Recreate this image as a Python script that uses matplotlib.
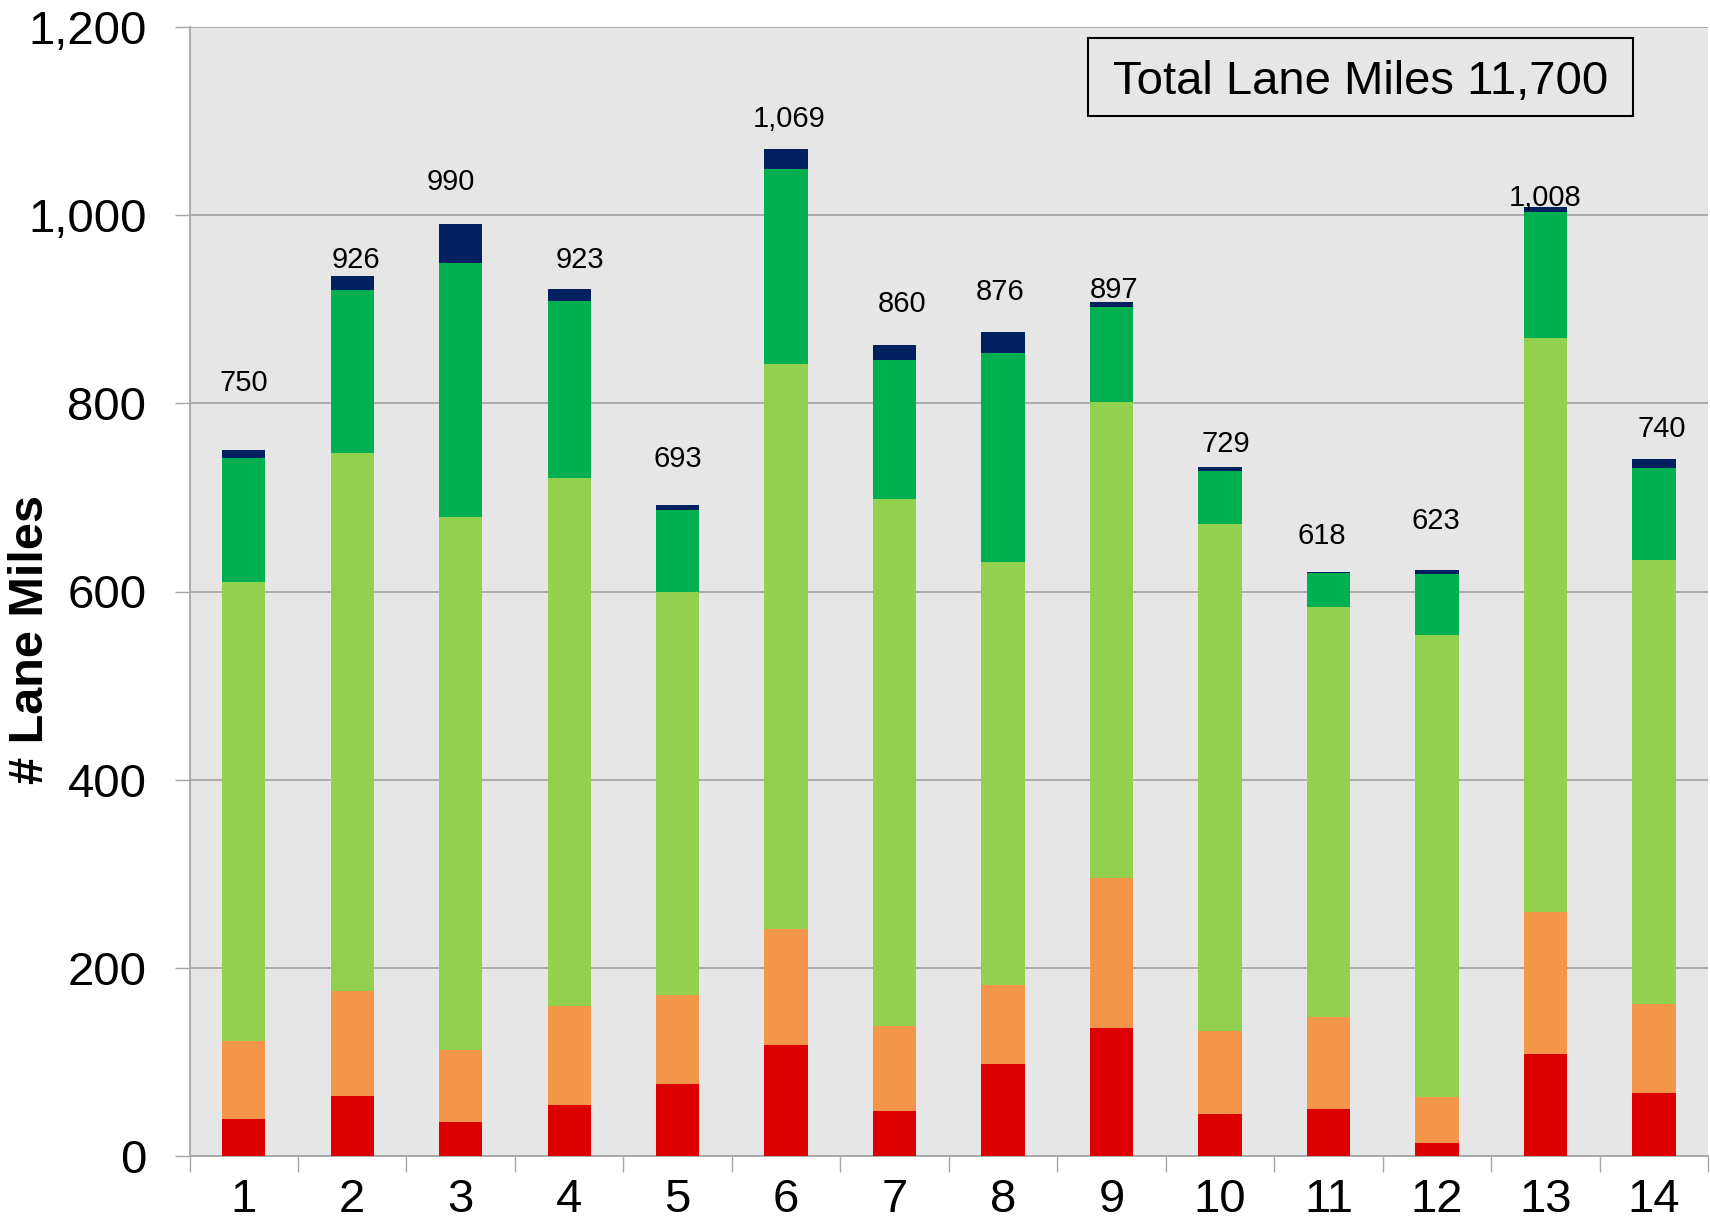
import numpy as np
import matplotlib.pyplot as plt
from matplotlib.patches import Rectangle

plt.rcParams['font.family'] = ['Liberation Sans', 'DejaVu Sans']

# lane miles per district, stacked from bottom (red) to top (navy)
districts = [str(i) for i in range(1, 15)]
red = [39, 63, 36, 54, 76, 118, 48, 97, 136, 44, 50, 14, 108, 67]
orange = [83, 112, 76, 105, 95, 123, 90, 84, 159, 89, 97, 48, 151, 94]
light_green = [488, 572, 567, 562, 429, 601, 560, 450, 507, 539, 437, 492, 611, 472]
dark_green = [132, 174, 270, 188, 87, 207, 148, 223, 101, 56, 36, 65, 134, 98]
navy = [8, 14, 42, 13, 5, 22, 16, 22, 5, 4, 1, 4, 5, 10]
totals = [750, 926, 990, 923, 693, 1069, 860, 876, 897, 729, 618, 623, 1008, 740]
total_text = "Total Lane Miles 11,700"

# hand placed label nudges (x in category units, y in lane miles above bar top)
label_dx = [0, 0.03, -0.09, 0.10, 0, 0.03, 0.07, -0.03, 0.02, 0.05, -0.06, -0.01, 0, 0.07]
label_dy = [72, 18, 45, 31, 49, 32, 44, 43, 13, 25, 38, 52, 10, 32]

colors = ['#DC0000', '#F39649', '#92D050', '#00B050', '#002060']
grid_col = '#A6A6A6'

fig = plt.figure(figsize=(17.1, 12.32), dpi=100)
W, H = 1710, 1232
ax = fig.add_axes([189.5 / W, 1 - 1155.7 / H, (1708.3 - 189.5) / W, (1155.7 - 27.3) / H])

x = np.arange(len(districts))
bottom = np.zeros(len(districts))
for vals, col in zip([red, orange, light_green, dark_green, navy], colors):
    ax.bar(x, vals, 0.4, bottom=bottom, color=col, linewidth=0, zorder=3)
    bottom += np.array(vals)

for i in range(len(districts)):
    ax.text(x[i] + label_dx[i], bottom[i] + label_dy[i], f"{totals[i]:,}",
            ha='center', va='center', fontsize=21, zorder=4)

ax.set_xlim(-0.5, len(districts) - 0.5)
ax.set_ylim(0, 1200)
ax.set_facecolor('#E6E6E6')

yt = list(range(0, 1201, 200))
ax.set_yticks(yt)
ax.set_yticklabels([f"{v:,}" for v in yt])
ax.yaxis.grid(True, color=grid_col, linewidth=1.3, zorder=0)

ax.set_xticks(np.arange(-0.5, len(districts), 1))
ax.set_xticklabels([])
ax.set_xticks(x, minor=True)
ax.set_xticklabels(districts, minor=True)

ax.tick_params(axis='x', which='major', length=11.5, width=1, color=grid_col)
ax.tick_params(axis='x', which='minor', length=0, pad=16, labelsize=34)
ax.tick_params(axis='y', length=11, width=1, color=grid_col, pad=20, labelsize=34)

for s in ['top', 'right']:
    ax.spines[s].set_visible(False)
for s in ['left', 'bottom']:
    ax.spines[s].set_color(grid_col)
    ax.spines[s].set_linewidth(1.3)

fig.text(30.5 / W, 1 - 640 / H, '# Lane Miles', rotation=90, ha='center', va='center',
         fontsize=35, fontweight='bold')

fig.patches.append(Rectangle((1088 / W, 1 - 116 / H), 545 / W, 78.3 / H,
                             transform=fig.transFigure, fill=False, ec='black', lw=1.5))
fig.text(1360.5 / W, 1 - 77 / H, total_text, ha='center', va='center_baseline', fontsize=34)

fig.savefig('out.png', dpi=100)
